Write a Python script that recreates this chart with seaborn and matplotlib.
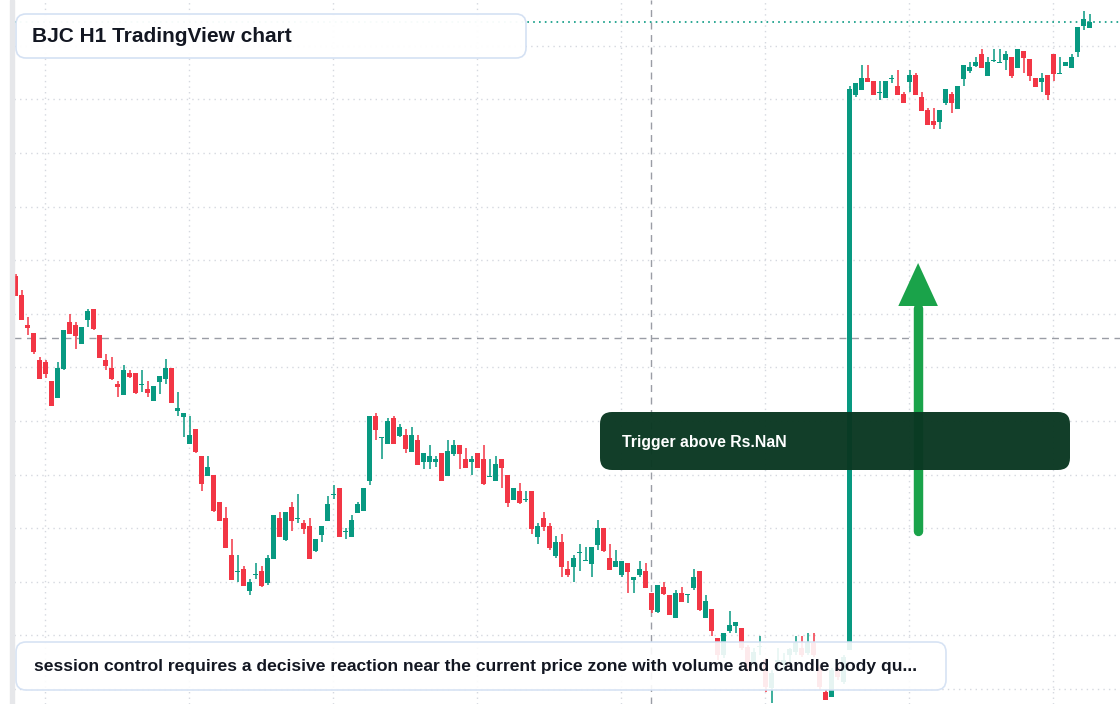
import numpy as np, pandas as pd
import matplotlib; matplotlib.use("Agg")
import matplotlib.pyplot as plt
from matplotlib.patches import FancyBboxPatch, Rectangle, Polygon
import seaborn as sns

# ---- OHLC (H1 candles) ----
opens = [724,705,675,667,640,638,619,602,631,678,
         675,656,680,691,665,640,632,616,605,627,
         627,615,611,599,618,621,632,589,583,556,
         571,544,524,525,498,482,445,428,431,409,
         425,429,417,441,482,460,493,481,477,474,
         449,465,479,505,512,468,463,487,489,519,
         584,562,556,582,564,565,548,560,538,538,
         538,547,524,546,555,541,538,547,541,523,
         519,541,525,500,509,500,509,463,482,474,
         444,458,431,433,447,439,436,455,472,442,
         433,425,437,420,425,429,407,388,413,405,
         382,407,405,412,429,382,391,362,345,369,
         374,372,353,337,353,340,312,338,335,345,
         348,352,347,357,333,308,303,333,318,350,
         905,910,922,919,907,902,921,914,906,918,
         925,903,890,879,878,897,906,891,921,929,
         934,946,924,939,937,940,943,932,949,941,
         922,918,925,946,926,934,932,948,974,972]
closes = [704,680,672,648,621,626,594,632,670,666,
          664,673,689,671,642,634,621,613,630,623,
          607,616,607,614,624,632,597,592,587,565,
          548,516,533,489,479,452,420,429,414,418,
          426,414,442,485,463,488,479,482,471,441,
          461,474,496,506,463,469,480,496,512,584,
          570,563,579,556,573,551,565,535,547,544,
          541,519,549,555,546,532,541,532,516,524,
          536,532,497,512,497,501,471,474,473,452,
          458,433,425,442,448,440,453,472,449,430,
          439,439,428,423,431,412,390,415,406,385,
          407,398,406,423,390,399,369,345,367,375,
          378,352,331,348,354,313,327,340,340,351,
          358,345,358,345,313,300,330,323,343,911,
          917,922,918,905,908,919,922,905,897,925,
          905,889,875,875,890,911,897,914,935,933,
          938,932,938,940,938,946,924,951,942,924,
          913,922,905,926,927,938,943,973,981,978]
highs = [726,710,683,667,643,640,619,638,670,686,
         678,673,691,691,665,646,643,619,635,630,
         627,630,619,614,624,641,632,608,587,584,
         571,544,544,525,498,493,461,445,434,421,
         437,434,445,485,488,488,498,506,480,482,
         461,474,504,515,512,472,485,498,512,584,
         587,563,582,584,576,571,573,565,547,555,
         544,547,560,560,555,552,544,547,555,541,
         544,541,525,512,517,509,509,477,488,477,
         464,466,439,445,456,453,453,480,472,456,
         450,439,437,423,439,437,407,415,418,405,
         410,413,406,431,429,405,391,362,367,389,
         378,372,355,352,364,342,330,352,347,352,
         364,364,367,367,335,310,332,335,345,914,
         917,935,935,919,919,919,925,930,908,930,
         927,908,892,892,890,911,908,914,935,938,
         943,951,943,951,951,949,943,951,949,941,
         922,927,925,946,943,938,946,973,989,986]
lows = [704,680,665,646,621,622,594,602,630,666,
        651,656,673,670,642,630,620,603,605,622,
        606,608,603,599,606,616,597,584,563,556,
        547,509,524,488,479,452,420,418,414,405,
        421,413,415,441,463,459,469,477,466,441,
        448,458,479,501,463,461,463,487,489,515,
        560,541,556,556,563,547,548,535,531,531,
        533,519,524,544,531,532,525,532,515,523,
        519,512,493,500,496,498,466,456,469,450,
        442,423,423,418,429,439,423,450,448,430,
        433,423,407,407,423,412,387,387,405,385,
        382,398,397,410,389,382,364,340,342,367,
        367,350,328,334,345,308,297,330,330,338,
        345,343,345,343,310,300,303,320,316,350,
        903,910,918,905,900,902,917,905,897,908,
        905,889,875,871,871,895,887,891,914,927,
        933,932,924,938,937,930,922,932,927,919,
        913,908,900,919,926,934,932,943,970,972]

TITLE = "BJC H1 TradingView chart"
NOTE = ("session control requires a decisive reaction near the current price zone "
        "with volume and candle body qu...")
TRIGGER = "Trigger above Rs.NaN"
crosshair_bar, crosshair_price = 105.9, 662
arrow_bar, arrow_from, arrow_to = 150.4, 469, 737

UP, DOWN = "#089981", "#f23645"

sns.set_theme(style="white")
plt.rcParams["font.family"] = ["Liberation Sans", "DejaVu Sans"]

df = pd.DataFrame({"open": opens, "high": highs, "low": lows, "close": closes})
df["bar"] = np.arange(len(df))
df["up"] = df["close"] >= df["open"]
df["color"] = np.where(df["up"], UP, DOWN)

W, H = 1120, 704
fig = plt.figure(figsize=(W / 100, H / 100), dpi=100)
fig.patch.set_facecolor("white")

ax = fig.add_axes([14 / W, 0, (W - 14) / W, 1])
ax.set_xlim(-0.28, 184.05); ax.set_ylim(296, 1000)
for s in ax.spines.values(): s.set_visible(False)
ax.set_xticks(np.arange(4.88, 184, 24)); ax.set_yticks(np.arange(311, 1000, 53.6))
ax.tick_params(length=0, labelleft=False, labelbottom=False)
ax.grid(True, linestyle=(0, (1, 3)), color="#d5d8df", lw=1)
ax.set_axisbelow(True)

# crosshair + last price
ax.axvline(crosshair_bar, color="#9a9da5", lw=1, dashes=(5, 4), zorder=1)
ax.axhline(crosshair_price, color="#9a9da5", lw=1, dashes=(5, 4), zorder=1)
ax.axhline(df["close"].iloc[-1], color=UP, lw=1.2, linestyle=(0, (1, 2.5)), zorder=1)

# candles
ax.vlines(df["bar"], df["low"], df["high"], colors=df["color"], lw=1.1, zorder=2)
body_lo = df[["open", "close"]].min(axis=1)
body_h = (df["close"] - df["open"]).abs().clip(lower=1.2)
ax.bar(df["bar"], body_h, bottom=body_lo, width=0.78, color=df["color"], lw=0, zorder=3)

# arrow (data coords)
ax.plot([arrow_bar, arrow_bar], [arrow_from, arrow_to - 45], color="#1aa34a", lw=6.8,
        solid_capstyle="round", zorder=4)
ax.add_patch(Polygon([[arrow_bar - 3.3, arrow_to - 43], [arrow_bar + 3.3, arrow_to - 43],
                      [arrow_bar, arrow_to]], closed=True, color="#1aa34a", lw=0, zorder=4))

# overlay in pixel coordinates for labels
ov = fig.add_axes([0, 0, 1, 1], zorder=5)
ov.set_xlim(0, W); ov.set_ylim(H, 0); ov.axis("off"); ov.patch.set_alpha(0)

fig.patches.append(Rectangle((10 / W, 0), 4 / W, 1, transform=fig.transFigure,
                             color="#e6e7ea", zorder=6))

def box(x, y, w, h, fc, ec, alpha, r):
    ov.add_patch(FancyBboxPatch((x, y), w, h, boxstyle=f"round,pad=0,rounding_size={r}",
                                fc=fc, ec=ec, lw=1.2, alpha=alpha))

box(16, 14, 510, 44, "white", "#d3e0f3", 0.96, 10)
ov.text(32, 36, TITLE, fontsize=15, fontweight="bold", color="#131722", va="center")

box(16, 642, 930, 48, "white", "#d3e0f3", 0.9, 10)
ov.text(34, 667, NOTE, fontsize=12.6, fontweight="bold", color="#131722", va="center")

box(600, 412, 470, 58, "#0a3822", "none", 0.97, 12)
ov.text(622, 442, TRIGGER, fontsize=11.4, fontweight="bold", color="white", va="center")

fig.savefig("out.png", dpi=100)
